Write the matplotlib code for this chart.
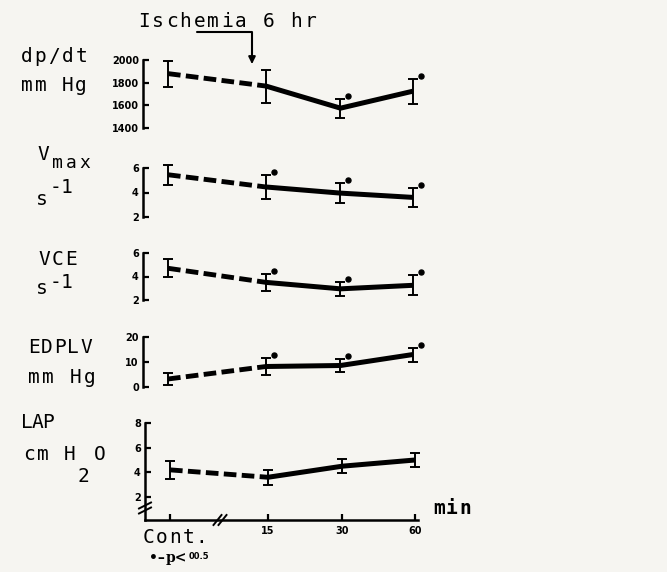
import numpy as np
import matplotlib
matplotlib.use("Agg")
import matplotlib.pyplot as plt
from matplotlib.lines import Line2D
from matplotlib.transforms import offset_copy

# time points (Cont. is the control value before ischemia)
times = ['Cont.', '15', '30', '60']
xpos = [0, 1, 1.76, 2.5]

dpdt_mean = [1880, 1770, 1575, 1725]
dpdt_err = [115, 145, 85, 110]
dpdt_sig = [False, False, True, True]

vmax_mean = [5.45, 4.45, 3.95, 3.6]
vmax_err = [0.8, 0.95, 0.8, 0.75]
vmax_sig = [False, True, True, True]

vce_mean = [4.7, 3.5, 2.95, 3.25]
vce_err = [0.75, 0.7, 0.6, 0.85]
vce_sig = [False, True, True, True]

edplv_mean = [3.2, 8.2, 8.6, 13.0]
edplv_err = [2.4, 3.4, 2.5, 2.8]
edplv_sig = [False, True, True, True]

lap_mean = [4.2, 3.6, 4.5, 5.0]
lap_err = [0.75, 0.6, 0.55, 0.55]
lap_sig = [False, False, False, False]

W, H = 667, 572
BG = '#f6f5f1'
MONO = 'DejaVu Sans Mono'


def fx(x):
    return x / W


def fy(y):
    return 1 - y / H


def px_rect(x0, y0, x1, y1):
    return [x0 / W, 1 - y1 / H, (x1 - x0) / W, (y1 - y0) / H]


def typed(x, y, s, pitch=13.6, size=14, weight='normal'):
    # typewriter look: one glyph per fixed pitch cell
    for i, ch in enumerate(s):
        if ch == ' ':
            continue
        fig.text(fx(x + (i + 0.5) * pitch), fy(y), ch, family=MONO,
                 fontsize=size, fontweight=weight, ha='center', va='baseline')


fig = plt.figure(figsize=(W / 100, H / 100), dpi=100, facecolor=BG)

xlim = (-0.255, 2.53)
unit = 98  # pixels per x unit

# (mean, err, sig, ylim, yticks, spine x, top px, bottom px)
panels = [
    (dpdt_mean, dpdt_err, dpdt_sig, (1400, 2000), [1400, 1600, 1800, 2000], 143, 60, 128),
    (vmax_mean, vmax_err, vmax_sig, (2, 6), [2, 4, 6], 143, 168, 217),
    (vce_mean, vce_err, vce_sig, (2, 6), [2, 4, 6], 143, 253, 300),
    (edplv_mean, edplv_err, edplv_sig, (0, 20), [0, 10, 20], 143, 337, 387),
    (lap_mean, lap_err, lap_sig, (0.135, 8), [2, 4, 6, 8], 145, 423, 520),
]

axes = []
for i, (mean, err, sig, ylim, yticks, sx, top, bot) in enumerate(panels):
    right = sx + (xlim[1] - xlim[0]) * unit
    ax = fig.add_axes(px_rect(sx, top, right, bot))
    ax.set_facecolor('none')
    ax.set_xlim(*xlim)
    ax.set_ylim(*ylim)
    for s in ['top', 'right']:
        ax.spines[s].set_visible(False)
    ax.spines['left'].set_linewidth(1.8)
    ax.set_yticks(yticks)
    ax.set_yticklabels([str(t) for t in yticks])
    ax.tick_params(axis='y', direction='in', length=4.5, width=1.6, pad=3,
                   labelsize=7)
    for lab in ax.get_yticklabels():
        lab.set_fontweight('bold')
    if i < 4:
        ax.spines['bottom'].set_visible(False)
        ax.set_xticks([])
    else:
        ax.spines['bottom'].set_linewidth(1.8)
        ax.set_xticks(xpos)
        ax.set_xticklabels([''] + times[1:])
        ax.tick_params(axis='x', direction='in', length=4.5, width=1.6, pad=4,
                       labelsize=7)
        for lab in ax.get_xticklabels():
            lab.set_fontweight('bold')

    # error bars
    ax.errorbar(xpos, mean, yerr=err, fmt='none', ecolor='black',
                elinewidth=1.4, capsize=3.6, capthick=1.4, clip_on=False)
    # control -> 15 min dashed, then solid
    ax.plot(xpos[:2], mean[:2], color='black', lw=3.5, ls=(0, (2.6, 1.1)),
            dash_capstyle='butt', clip_on=False)
    ax.plot(xpos[1:], mean[1:], color='black', lw=3.6,
            solid_joinstyle='round', solid_capstyle='butt', clip_on=False)
    # significance dots
    tr = offset_copy(ax.transData, fig=fig, x=8, y=3, units='dots')
    sx_pts = [x for x, s in zip(xpos, sig) if s]
    sy_pts = [m + e for m, e, s in zip(mean, err, sig) if s]
    if sx_pts:
        ax.plot(sx_pts, sy_pts, 'o', color='black', ms=3.6, transform=tr,
                clip_on=False)
    axes.append(ax)

# axis labels
typed(20, 62, 'dp/dt')
typed(20, 91, 'mm Hg')
typed(37, 160, 'V', pitch=13)
typed(50, 168, 'max', pitch=14, size=13)
typed(37, 205, 's', pitch=10.5)
typed(50, 193, '-1', pitch=11)
typed(37, 265, 'VCE', pitch=13.7)
typed(37, 294, 's', pitch=10.5)
typed(50, 288, '-1', pitch=11)
typed(27, 353, 'EDPLV', pitch=13.2)
typed(27, 383, 'mm Hg', pitch=14)
typed(22, 428, 'LAP', pitch=10.5)
typed(22, 460, 'cm', pitch=14)
typed(62, 460, 'H', pitch=15)
typed(77, 482, '2', pitch=13)
typed(93, 460, 'O', pitch=14)

# x axis annotations
typed(142, 543, 'Cont.', pitch=13.2)
typed(432, 514, 'min', pitch=13.3, weight='bold')

# break marks on the axes
brk = dict(color='black', lw=1.4, transform=fig.transFigure)
for dy in (-2.5, 2.5):
    fig.add_artist(Line2D([fx(139), fx(151)], [fy(511 + dy), fy(505 + dy)], **brk))
for dx in (-2.5, 2.5):
    fig.add_artist(Line2D([fx(216 + dx), fx(224 + dx)], [fy(525), fy(515)], **brk))

# ischemia arrow
typed(137, 27, 'Ischemia 6 hr', pitch=13.85)
axes[0].annotate('', xy=(fx(252), fy(64)), xycoords='figure fraction',
                 xytext=(fx(197), fy(32)), textcoords='figure fraction',
                 arrowprops=dict(arrowstyle='-|>', color='black', lw=1.5,
                                 mutation_scale=10, shrinkA=0, shrinkB=0,
                                 connectionstyle='angle,angleA=0,angleB=90,rad=0'))

# p value legend
fig.text(fx(149), fy(562), '\u2022\u2013', fontsize=10, fontweight='bold',
         va='baseline')
fig.text(fx(166), fy(562), 'p<', family='DejaVu Serif', fontsize=10,
         fontweight='bold', va='baseline')
fig.text(fx(189), fy(559), '00.5', fontsize=6, fontweight='bold', va='baseline')

fig.savefig('out.png', dpi=100, facecolor=BG)
